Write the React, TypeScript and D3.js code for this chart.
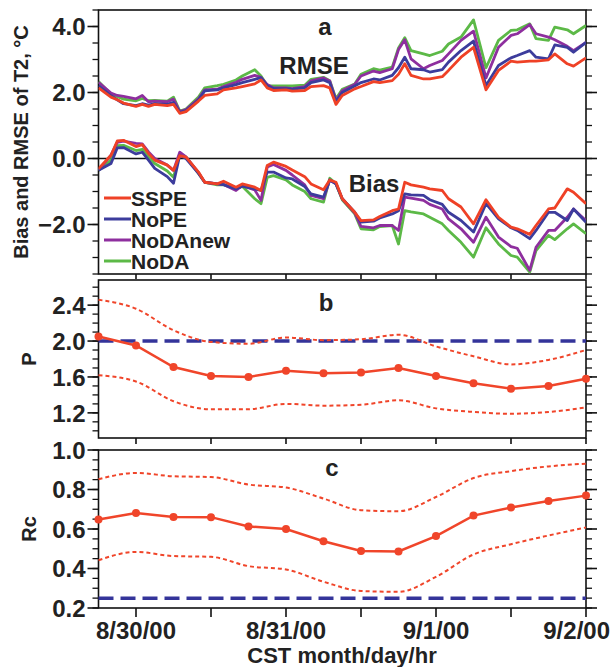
import React from "react";
import * as d3 from "d3";

// ---------- DATA ----------
// hours after 8/29/00 18 CST
const hours = [0, 2, 3, 4, 6, 7, 8, 9, 11, 12, 13, 14, 16, 17, 19, 20, 22, 23, 25, 26, 27, 28, 30, 31, 33, 34, 36, 37, 38, 39, 41, 42, 44, 45, 47, 48, 49, 50, 52, 53, 55, 56, 58, 60, 62, 64, 66, 67, 69, 70, 72, 73, 75, 76, 78];

const rmseSSPE = [2.14, 1.86, 1.78, 1.68, 1.58, 1.64, 1.58, 1.64, 1.6, 1.64, 1.37, 1.42, 1.74, 1.91, 1.96, 2.08, 2.14, 2.18, 2.26, 2.38, 2.14, 2.06, 2.08, 2.04, 2.06, 2.18, 2.21, 2.14, 1.64, 1.91, 2.11, 2.18, 2.33, 2.3, 2.36, 2.55, 2.87, 2.52, 2.41, 2.41, 2.48, 2.67, 3.07, 3.37, 2.08, 2.67, 2.95, 2.92, 2.95, 2.95, 2.99, 3.17, 2.87, 2.8, 3.05];
const rmseNoPE = [2.21, 1.9, 1.78, 1.66, 1.6, 1.66, 1.62, 1.66, 1.64, 1.7, 1.4, 1.45, 1.78, 2.05, 2.08, 2.14, 2.24, 2.3, 2.4, 2.45, 2.2, 2.12, 2.12, 2.1, 2.14, 2.3, 2.38, 2.3, 1.72, 2.0, 2.2, 2.3, 2.41, 2.38, 2.52, 2.75, 3.07, 2.72, 2.69, 2.62, 2.69, 2.92, 3.27, 3.56, 2.21, 2.82, 3.05, 3.12, 3.27, 3.07, 3.02, 3.44, 3.37, 3.22, 3.52];
const rmseNoDAnew = [2.31, 1.98, 1.91, 1.88, 1.81, 1.91, 1.72, 1.74, 1.72, 1.8, 1.42, 1.48, 1.81, 2.08, 2.1, 2.18, 2.31, 2.4, 2.52, 2.46, 2.24, 2.14, 2.14, 2.12, 2.18, 2.35, 2.44, 2.35, 1.76, 2.05, 2.25, 2.5, 2.65, 2.6, 2.72, 3.3, 3.6, 3.02, 2.72, 2.82, 2.97, 3.17, 3.58, 3.86, 2.44, 3.37, 3.73, 3.78, 4.06, 3.78, 3.68, 3.6, 3.4, 3.27, 3.52];
const rmseNoDA = [2.33, 1.95, 1.88, 1.8, 1.75, 1.82, 1.75, 1.76, 1.74, 1.86, 1.44, 1.5, 1.86, 2.14, 2.21, 2.25, 2.38, 2.5, 2.69, 2.5, 2.21, 2.2, 2.2, 2.2, 2.22, 2.4, 2.46, 2.36, 1.81, 2.1, 2.26, 2.55, 2.72, 2.68, 2.77, 3.35, 3.66, 3.27, 3.17, 3.12, 3.25, 3.47, 3.68, 4.2, 2.75, 3.58, 3.88, 3.9, 4.08, 3.63, 3.58, 3.98, 3.9, 3.78, 4.03];

const biasSSPE = [-0.31, 0.1, 0.53, 0.55, 0.36, 0.42, 0.15, -0.05, -0.2, -0.36, 0.09, 0.04, -0.41, -0.72, -0.77, -0.69, -0.87, -0.77, -0.87, -0.97, -0.21, -0.11, -0.24, -0.35, -0.55, -0.77, -0.95, -0.65, -0.72, -1.22, -1.63, -1.88, -1.86, -1.76, -1.58, -1.53, -0.72, -0.8, -0.87, -0.92, -0.97, -1.22, -1.47, -1.98, -1.25, -1.78, -2.08, -2.13, -2.3, -2.03, -1.53, -1.5, -0.92, -1.02, -1.37];
const biasNoPE = [-0.36, -0.15, 0.32, 0.33, 0.14, 0.19, -0.05, -0.3, -0.55, -0.75, 0.1, 0.0, -0.45, -0.72, -0.77, -0.79, -0.92, -0.84, -0.92, -0.97, -0.41, -0.41, -0.59, -0.62, -0.85, -1.07, -1.17, -0.65, -0.77, -1.22, -1.63, -1.93, -1.9, -1.8, -1.68, -1.58, -1.07, -1.1, -1.12, -1.25, -1.39, -1.63, -1.88, -2.23, -1.37, -1.83, -2.1, -2.18, -2.43, -2.18, -1.63, -1.63, -1.88, -1.53, -1.93];
const biasNoDAnew = [-0.36, 0.1, 0.49, 0.53, 0.46, 0.44, 0.2, 0.0, -0.2, -0.36, 0.19, 0.05, -0.43, -0.72, -0.77, -0.79, -0.97, -0.82, -0.95, -1.27, -0.26, -0.18, -0.36, -0.5, -0.8, -1.12, -1.22, -0.65, -0.77, -1.22, -1.65, -2.06, -2.1, -2.03, -2.03, -2.18, -1.17, -1.2, -1.27, -1.39, -1.53, -1.83, -2.13, -2.54, -1.78, -2.38, -2.67, -2.72, -3.39, -2.69, -2.18, -2.18, -1.78, -1.53, -1.88];
const biasNoDA = [-0.36, -0.05, 0.39, 0.4, 0.24, 0.28, 0.05, -0.15, -0.38, -0.57, 0.15, 0.04, -0.45, -0.72, -0.8, -0.79, -0.92, -0.84, -1.22, -1.37, -0.57, -0.52, -0.65, -0.8, -1.0, -1.22, -1.32, -0.6, -0.77, -1.25, -1.68, -2.13, -2.16, -2.06, -2.03, -2.59, -1.58, -1.62, -1.68, -1.78, -1.98, -2.18, -2.54, -2.99, -2.1, -2.59, -2.94, -2.99, -3.44, -2.79, -2.33, -2.46, -2.13, -1.98, -2.28];

const seriesNames = ["SSPE", "NoPE", "NoDAnew", "NoDA"];
const seriesColors = ["#ef4126", "#3c3c9c", "#8e2f9e", "#5cb947"];

// statistics every 6 h
const statHours = [0, 6, 12, 18, 24, 30, 36, 42, 48, 54, 60, 66, 72, 78];
const pMean = [2.05, 1.95, 1.71, 1.61, 1.6, 1.67, 1.64, 1.65, 1.7, 1.61, 1.53, 1.47, 1.5, 1.58];
const pUpper = [2.46, 2.36, 2.12, 1.99, 1.97, 2.04, 2.01, 2.02, 2.07, 1.94, 1.83, 1.74, 1.79, 1.9];
const pLower = [1.62, 1.55, 1.33, 1.24, 1.24, 1.3, 1.28, 1.29, 1.34, 1.25, 1.21, 1.19, 1.21, 1.26];
const rcMean = [0.648, 0.681, 0.661, 0.66, 0.613, 0.6, 0.538, 0.489, 0.486, 0.564, 0.668, 0.709, 0.742, 0.769];
const rcUpper = [0.852, 0.884, 0.867, 0.863, 0.825, 0.81, 0.754, 0.695, 0.69, 0.762, 0.858, 0.893, 0.917, 0.931];
const rcLower = [0.442, 0.484, 0.463, 0.459, 0.412, 0.395, 0.333, 0.286, 0.282, 0.358, 0.471, 0.523, 0.567, 0.608];
const pRef = 2.0;
const rcRef = 0.25;

const xTickHours = [6, 18, 30, 42, 54, 66, 78];
const xTickLabels = ["8/30/00", "", "8/31/00", "", "9/1/00", "", "9/2/00"];

const aMajor = [-2, 0, 2, 4];
const bMajor = [1.2, 1.6, 2.0, 2.4];
const cMajor = [0.2, 0.4, 0.6, 0.8, 1.0];

// ---------- LAYOUT ----------
const W = 614, H = 667;
const x = d3.scaleLinear().domain([0, 78]).range([98.5, 586]);
const ya = d3.scaleLinear().domain([-3.5, 4.5]).range([274, 10]);
const yb = d3.scaleLinear().domain([0.92, 2.68]).range([438, 280]);
const yc = d3.scaleLinear().domain([0.2, 1.0]).range([608, 450]);
const FONT = "'Liberation Sans', Arial, Helvetica, sans-serif";

function range(a: number, b: number, s: number) {
  const out: number[] = [];
  for (let v = a; v <= b + 1e-9; v += s) out.push(Math.round(v * 1000) / 1000);
  return out;
}

function Frame({ y, major, minor, fmt, xTickLen }: any) {
  const [y0, y1] = y.range();
  const xl = x.range()[0], xr = x.range()[1];
  return (
    <g stroke="#111" fill="none">
      <rect x={xl} y={y1} width={xr - xl} height={y0 - y1} strokeWidth={1.6} />
      {minor.map((v: number, i: number) => (
        <g key={"m" + i}>
          <line x1={xl - 6} x2={xl} y1={y(v)} y2={y(v)} strokeWidth={1.3} />
          <line x1={xr} x2={xr + 6} y1={y(v)} y2={y(v)} strokeWidth={1.3} />
        </g>
      ))}
      {major.map((v: number, i: number) => (
        <g key={"M" + i}>
          <line x1={xl - 11} x2={xl} y1={y(v)} y2={y(v)} strokeWidth={1.6} />
          <line x1={xr} x2={xr + 11} y1={y(v)} y2={y(v)} strokeWidth={1.6} />
          <text x={xl - 13} y={y(v)} dy="0.36em" textAnchor="end" fill="#222" stroke="none"
            fontFamily={FONT} fontWeight="bold" fontSize={24}>{fmt(v)}</text>
        </g>
      ))}
      {xTickHours.map((h, i) => (
        <line key={"x" + i} x1={x(h)} x2={x(h)} y1={y0} y2={y0 + xTickLen} strokeWidth={1.6} />
      ))}
    </g>
  );
}

function StatPanel({ y, mean, upper, lower, ref }: any) {
  const lin = d3.line<number>().x((_, i) => x(statHours[i])).y((d) => y(d));
  const smooth = d3.line<number>().x((_, i) => x(statHours[i])).y((d) => y(d)).curve(d3.curveMonotoneX);
  return (
    <g>
      <line x1={x(0)} x2={x(78)} y1={y(ref)} y2={y(ref)} stroke="#34349a" strokeWidth={3.5} strokeDasharray="15,7" />
      <path d={smooth(upper) || ""} fill="none" stroke="#f0452a" strokeWidth={2} strokeDasharray="4,3" />
      <path d={smooth(lower) || ""} fill="none" stroke="#f0452a" strokeWidth={2} strokeDasharray="4,3" />
      <path d={lin(mean) || ""} fill="none" stroke="#f0452a" strokeWidth={2.5} />
      {mean.map((v: number, i: number) => (
        <circle key={i} cx={x(statHours[i])} cy={y(v)} r={4} fill="#f0452a" />
      ))}
    </g>
  );
}

export default function App() {
  const rmse = [rmseSSPE, rmseNoPE, rmseNoDAnew, rmseNoDA];
  const bias = [biasSSPE, biasNoPE, biasNoDAnew, biasNoDA];
  const line = d3.line<number>().x((_, i) => x(hours[i])).y((d) => ya(d));
  const order = [3, 2, 1, 0];
  const legY0 = 198, legStep = 21;
  return (
    <svg width={W} height={H} style={{ position: "absolute", left: 0, top: 0, background: "#fff" }}>
      <defs>
        <clipPath id="clipA">
          <rect x={x(0)} y={10} width={x(78) - x(0)} height={264} />
        </clipPath>
      </defs>
      {/* Panel a */}
      <Frame y={ya} major={aMajor} minor={range(-3.5, 4.5, 0.5)} fmt={(v: number) => d3.format(".1f")(v)} xTickLen={5} />
      <line x1={x(0)} x2={x(78)} y1={ya(0)} y2={ya(0)} stroke="#111" strokeWidth={1.6} />
      <g clipPath="url(#clipA)">
        {order.map((k) => (
          <g key={k}>
            <path d={line(rmse[k]) || ""} fill="none" stroke={seriesColors[k]} strokeWidth={2.8} strokeLinejoin="round" />
            <path d={line(bias[k]) || ""} fill="none" stroke={seriesColors[k]} strokeWidth={2.8} strokeLinejoin="round" />
          </g>
        ))}
      </g>
      <g fontFamily={FONT} fontWeight="bold" fill="#222">
        <text x={325} y={26} dy="0.36em" textAnchor="middle" fontSize={24}>a</text>
        <text x={314} y={65} dy="0.36em" textAnchor="middle" fontSize={24}>RMSE</text>
        <text x={374} y={183} dy="0.36em" textAnchor="middle" fontSize={24}>Bias</text>
        {seriesNames.map((n, i) => (
          <g key={n}>
            <line x1={104} x2={131} y1={legY0 + i * legStep} y2={legY0 + i * legStep} stroke={seriesColors[i]} strokeWidth={3} />
            <text x={131} y={legY0 + i * legStep} dy="0.36em" fontSize={21}>{n}</text>
          </g>
        ))}
        <text transform={`translate(28,${(10 + 274) / 2}) rotate(-90)`} textAnchor="middle" fontSize={20}>Bias and RMSE of T2, °C</text>
      </g>

      {/* Panel b */}
      <Frame y={yb} major={bMajor} minor={range(1.0, 2.6, 0.1)} fmt={(v: number) => d3.format(".1f")(v)} xTickLen={6} />
      <StatPanel y={yb} mean={pMean} upper={pUpper} lower={pLower} ref={pRef} />
      <g fontFamily={FONT} fontWeight="bold" fill="#222">
        <text x={326} y={302} dy="0.36em" textAnchor="middle" fontSize={24}>b</text>
        <text transform={`translate(36,${(280 + 438) / 2}) rotate(-90)`} textAnchor="middle" fontSize={20}>P</text>
      </g>

      {/* Panel c */}
      <Frame y={yc} major={cMajor} minor={range(0.2, 1.0, 0.05)} fmt={(v: number) => d3.format(".1f")(v)} xTickLen={9} />
      <StatPanel y={yc} mean={rcMean} upper={rcUpper} lower={rcLower} ref={rcRef} />
      <g fontFamily={FONT} fontWeight="bold" fill="#222">
        <text x={332} y={467} dy="0.36em" textAnchor="middle" fontSize={24}>c</text>
        <text transform={`translate(36,${(450 + 608) / 2}) rotate(-90)`} textAnchor="middle" fontSize={20}>Rc</text>
        {xTickHours.map((h, i) => {
          const last = i === xTickHours.length - 1;
          return (
            <text key={i} x={last ? x(h) + 24 : x(h)} y={630} dy="0.36em" textAnchor={last ? "end" : "middle"} fontSize={24}>
              {xTickLabels[i]}
            </text>
          );
        })}
        <text x={342} y={655} dy="0.36em" textAnchor="middle" fontSize={22}>CST month/day/hr</text>
      </g>
    </svg>
  );
}
